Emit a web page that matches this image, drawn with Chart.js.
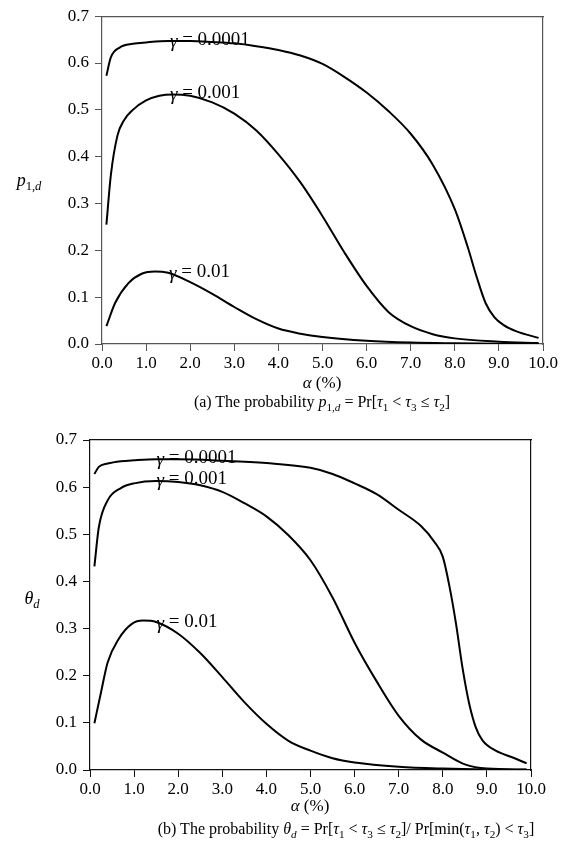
<!DOCTYPE html>
<html>
<head>
<meta charset="utf-8">
<script src="https://cdn.jsdelivr.net/npm/chart.js@4/dist/chart.umd.min.js"></script>
<style>
  body { margin: 0; background: #fff; width: 572px; height: 859px; position: relative; overflow: hidden; }
  canvas { position: absolute; left: 0; }
  .txt { position: absolute; font-family: "Liberation Serif", "DejaVu Serif", serif; font-size: 16px; color: #000;
         white-space: nowrap; transform: translate(-50%, -50%); }
  .txt i { font-style: italic; }
  .sb { font-size: 70%; position: relative; top: 0.35em; }
</style>
</head>
<body>
<canvas id="chartA" width="572" height="380" style="top:0"></canvas>
<canvas id="chartB" width="572" height="380" style="top:420px"></canvas>

<div class="txt" style="left:29px; top:180px; font-size:18px"><i>p</i><span class="sb">1,<i>d</i></span></div>
<div class="txt" style="left:322px; top:383px; font-size:17px"><i>α</i> (%)</div>
<div class="txt" style="left:322px; top:402px">(a) The probability <i>p</i><span class="sb">1,<i>d</i></span> = Pr[<i>τ</i><span class="sb">1</span> &lt; <i>τ</i><span class="sb">3</span> ≤ <i>τ</i><span class="sb">2</span>]</div>

<div class="txt" style="left:32px; top:598px; font-size:18px"><i>θ</i><span class="sb"><i>d</i></span></div>
<div class="txt" style="left:310px; top:806px; font-size:17px"><i>α</i> (%)</div>
<div class="txt" style="left:346px; top:829px">(b) The probability <i>θ</i><span class="sb"><i>d</i></span> = Pr[<i>τ</i><span class="sb">1</span> &lt; <i>τ</i><span class="sb">3</span> ≤ <i>τ</i><span class="sb">2</span>]/ Pr[min(<i>τ</i><span class="sb">1</span>, <i>τ</i><span class="sb">2</span>) &lt; <i>τ</i><span class="sb">3</span>]</div>

<script>
'use strict';

// curve labels (gamma values)
const GAMMA_LABELS = ['0.0001', '0.001', '0.01'];

// (a) p_{1,d} vs alpha (%)
const ALPHA_A_G4 = [0.1, 0.2, 0.4, 0.7, 1.0, 1.5, 2.0, 2.5, 3.0, 3.5, 4.0, 4.5, 5.0, 5.5, 6.0, 6.5, 7.0, 7.5, 8.0, 8.3, 8.5, 8.7, 8.9, 9.1, 9.4, 9.9];
const P1D_G4 = [0.573, 0.612, 0.633, 0.641, 0.644, 0.647, 0.647, 0.645, 0.642, 0.636, 0.628, 0.616, 0.598, 0.570, 0.537, 0.497, 0.449, 0.383, 0.288, 0.205, 0.142, 0.087, 0.057, 0.041, 0.027, 0.013];

const ALPHA_A_G3 = [0.1, 0.2, 0.35, 0.5, 0.7, 1.0, 1.3, 1.6, 2.0, 2.5, 3.0, 3.5, 4.0, 4.5, 5.0, 5.5, 6.0, 6.5, 7.0, 7.5, 8.0, 9.0, 9.9];
const P1D_G3 = [0.255, 0.360, 0.445, 0.478, 0.500, 0.520, 0.530, 0.533, 0.530, 0.516, 0.492, 0.456, 0.405, 0.345, 0.273, 0.195, 0.124, 0.068, 0.038, 0.021, 0.012, 0.005, 0.002];

const ALPHA_A_G2 = [0.1, 0.3, 0.6, 0.9, 1.2, 1.5, 2.0, 2.5, 3.0, 3.5, 4.0, 4.5, 5.0, 6.0, 7.0, 8.0, 9.0, 9.9];
const P1D_G2 = [0.038, 0.088, 0.130, 0.150, 0.155, 0.152, 0.132, 0.107, 0.079, 0.053, 0.033, 0.022, 0.015, 0.007, 0.003, 0.0015, 0.0007, 0.0003];

// (b) theta_d vs alpha (%)
const ALPHA_B_G4 = [0.1, 0.2, 0.4, 0.7, 1.0, 1.5, 2.0, 3.0, 4.0, 5.0, 5.5, 6.0, 6.5, 7.0, 7.5, 7.8, 8.0, 8.15, 8.3, 8.45, 8.6, 8.75, 8.9, 9.2, 9.6, 9.9];
const THETA_G4 = [0.628, 0.643, 0.650, 0.655, 0.657, 0.659, 0.659, 0.656, 0.651, 0.641, 0.628, 0.608, 0.585, 0.552, 0.518, 0.485, 0.452, 0.390, 0.310, 0.215, 0.140, 0.090, 0.063, 0.041, 0.026, 0.014];

const ALPHA_B_G3 = [0.1, 0.2, 0.4, 0.7, 1.0, 1.5, 2.0, 2.5, 3.0, 3.5, 4.0, 4.5, 5.0, 5.5, 6.0, 6.5, 7.0, 7.5, 8.0, 8.5, 9.0, 9.9];
const THETA_G3 = [0.432, 0.515, 0.572, 0.598, 0.608, 0.613, 0.611, 0.604, 0.590, 0.566, 0.538, 0.498, 0.445, 0.366, 0.270, 0.188, 0.115, 0.065, 0.037, 0.012, 0.003, 0.001];

const ALPHA_B_G2 = [0.1, 0.25, 0.4, 0.65, 0.95, 1.2, 1.5, 2.0, 2.5, 3.0, 3.5, 4.0, 4.5, 5.0, 5.5, 6.0, 7.0, 8.0, 9.0, 9.9];
const THETA_G2 = [0.099, 0.165, 0.228, 0.278, 0.310, 0.317, 0.314, 0.289, 0.248, 0.197, 0.144, 0.098, 0.062, 0.041, 0.025, 0.016, 0.007, 0.003, 0.001, 0.0005];

const FONT = '"Liberation Serif", "DejaVu Serif", serif';

function points(xs, ys) {
    return xs.map((x, i) => ({ x: x, y: ys[i] }));
}

function curve(xs, ys) {
    return {
        data: points(xs, ys),
        borderColor: '#000',
        borderWidth: 2,
        pointRadius: 0,
        fill: false,
        cubicInterpolationMode: 'monotone'
    };
}

// writes "γ = value" next to each curve, anchored in data coordinates
const curveLabels = {
    id: 'curveLabels',
    afterDatasetsDraw(chart, args, opts) {
        const ctx = chart.ctx;
        const sx = chart.scales.x, sy = chart.scales.y;
        ctx.save();
        ctx.fillStyle = '#000';
        ctx.textBaseline = 'middle';
        ctx.textAlign = 'left';
        for (const a of opts.anchors) {
            let px = sx.getPixelForValue(a.x);
            const py = sy.getPixelForValue(a.y);
            ctx.font = 'italic 19px ' + FONT;
            ctx.fillText('γ', px, py + 2);
            px += ctx.measureText('γ').width;
            ctx.font = '19px ' + FONT;
            ctx.fillText(' = ' + a.text, px, py);
        }
        ctx.restore();
    }
};

function makeChart(id, datasets, anchors, box, axisColor) {
    const tickFont = { family: FONT, size: 17 };
    const edge = {
        display: true,
        ticks: { display: false },
        grid: { drawOnChartArea: false, drawTicks: false },
        border: { color: axisColor, width: 1.2 }
    };
    return new Chart(document.getElementById(id), {
        type: 'line',
        data: { datasets: datasets },
        plugins: [curveLabels],
        options: {
            responsive: false,
            animation: false,
            layout: { padding: 0 },
            plugins: {
                legend: { display: false },
                tooltip: { enabled: false },
                curveLabels: { anchors: anchors }
            },
            scales: {
                x: {
                    type: 'linear', position: 'bottom', min: 0, max: 10,
                    ticks: { stepSize: 1, color: '#000', font: tickFont, padding: 2, maxRotation: 0,
                             callback: v => v.toFixed(1) },
                    grid: { drawOnChartArea: false, drawTicks: true, tickLength: 7, color: axisColor },
                    border: { color: axisColor, width: 1.2 },
                    afterFit: s => { s.height = box.bottom; }
                },
                y: {
                    type: 'linear', position: 'left', min: 0, max: 0.7,
                    ticks: { stepSize: 0.1, color: '#000', font: tickFont, padding: 6,
                             callback: v => v.toFixed(1) },
                    grid: { drawOnChartArea: false, drawTicks: true, tickLength: 7, color: axisColor },
                    border: { color: axisColor, width: 1.2 },
                    afterFit: s => { s.width = box.left; }
                },
                x2: Object.assign({ type: 'linear', position: 'top', min: 0, max: 10,
                                    afterFit: s => { s.height = box.top; } }, edge),
                y2: Object.assign({ type: 'linear', position: 'right', min: 0, max: 0.7,
                                    afterFit: s => { s.width = box.right; } }, edge)
            }
        }
    });
}

makeChart('chartA',
    [curve(ALPHA_A_G4, P1D_G4), curve(ALPHA_A_G3, P1D_G3), curve(ALPHA_A_G2, P1D_G2)],
    [{ x: 1.54, y: 0.650, text: GAMMA_LABELS[0] },
     { x: 1.54, y: 0.535, text: GAMMA_LABELS[1] },
     { x: 1.52, y: 0.153, text: GAMMA_LABELS[2] }],
    { left: 102, top: 14, right: 29, bottom: 36 }, '#555');

makeChart('chartB',
    [curve(ALPHA_B_G4, THETA_G4), curve(ALPHA_B_G3, THETA_G3), curve(ALPHA_B_G2, THETA_G2)],
    [{ x: 1.51, y: 0.662, text: GAMMA_LABELS[0] },
     { x: 1.51, y: 0.617, text: GAMMA_LABELS[1] },
     { x: 1.51, y: 0.313, text: GAMMA_LABELS[2] }],
    { left: 90, top: 20, right: 41, bottom: 30 }, '#111');
</script>
</body>
</html>
